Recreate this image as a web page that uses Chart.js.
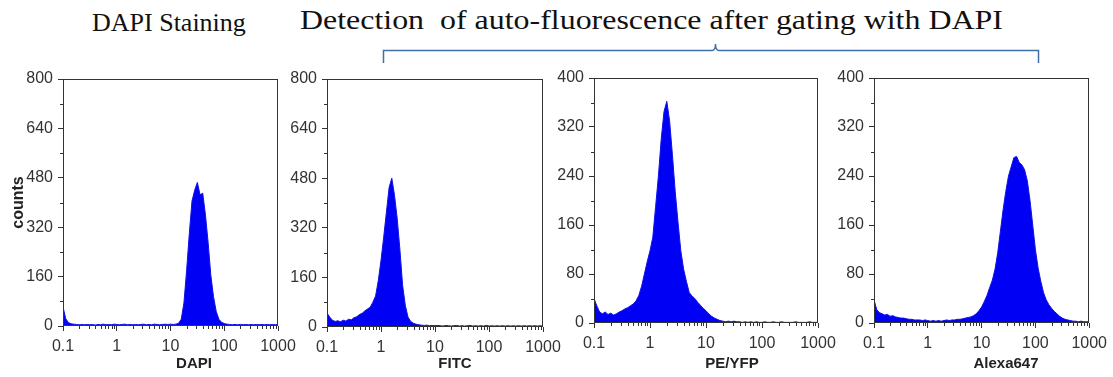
<!DOCTYPE html>
<html>
<head>
<meta charset="utf-8">
<script src="https://cdn.jsdelivr.net/npm/chart.js@4.4.1/dist/chart.umd.min.js"></script>
<style>
html,body{margin:0;padding:0;background:#fff;}
#wrap{position:relative;width:1113px;height:377px;overflow:hidden;background:#fff;}
#wrap canvas{position:absolute;left:0;top:0;}
.t{position:absolute;white-space:nowrap;font-family:"Liberation Serif","Times New Roman",serif;color:#111;}
.ax{position:absolute;white-space:nowrap;font-family:"Liberation Sans",Arial,sans-serif;font-weight:bold;font-size:15px;line-height:15px;color:#222;transform:translateX(-50%);}
svg{position:absolute;left:0;top:0;}
</style>
</head>
<body>
<div id="wrap">
  <div class="t" style="left:92px;top:10px;font-size:26px;line-height:26px;">DAPI Staining</div>
  <div class="t" style="left:300px;top:6px;font-size:28px;line-height:28px;transform:scaleX(1.14);transform-origin:0 0;">Detection&nbsp; of auto-fluorescence after gating with DAPI</div>
  <svg width="1113" height="377"><path d="M383.5,63 L383.5,50.5 L712,50.5 Q715.5,50.5 715.5,44 Q715.5,50.5 719,50.5 L1038.5,50.5 L1038.5,63" fill="none" stroke="#3f6fa6" stroke-width="1.5"/></svg>
  <canvas id="c1" width="1113" height="377"></canvas>
  <canvas id="c2" width="1113" height="377"></canvas>
  <canvas id="c3" width="1113" height="377"></canvas>
  <canvas id="c4" width="1113" height="377"></canvas>
  <div class="ax" style="left:194px;top:355px;">DAPI</div>
  <div class="ax" style="left:455px;top:355px;">FITC</div>
  <div class="ax" style="left:732px;top:355px;">PE/YFP</div>
  <div class="ax" style="left:1006px;top:355px;">Alexa647</div>
</div>
<script>
// ---- channel grid (log-spaced fluorescence channels, 20 per decade) ----
const decadeStarts = [0.1, 1, 10, 100];
const stepFactors = [1, 1.122, 1.259, 1.413, 1.585, 1.778, 1.995, 2.239, 2.512, 2.818,
                     3.162, 3.548, 3.981, 4.467, 5.012, 5.623, 6.310, 7.079, 7.943, 8.913];
const channels = decadeStarts.flatMap(d => stepFactors.map(f => d * f)).concat([1000]);

// ---- tick labels ----
const xTickValues = [0.1, 1, 10, 100, 1000];
const xTickLabels = ['0.1', '1', '10', '100', '1000'];
const xMinorFactors = [2, 3, 4, 5, 6, 7, 8, 9];

// ---- series (counts per channel) ----
const dapiCounts = [62,24,11,7,6,5,4,5,4,5, 4,5,3,5,4,6,4,5,4,6,
                    5,4,5,6,4,5,4,5,4,5, 6,4,5,4,6,5,4,5,6,5,
                    6,5,6,9,22,75,180,300,405,440, 465,425,430,360,270,165,95,48,22,12,
                    8,6,5,4,5,4,5,4,5,4, 5,4,5,4,5,4,5,4,5,4, 5];
const fitcCounts = [45,32,22,18,20,17,22,19,25,23, 30,33,40,44,52,58,64,80,100,150,
                    215,290,370,450,480,425,350,250,135,70, 32,18,12,9,7,6,5,6,4,5,
                    4,5,4,3,5,4,3,4,5,3, 4,3,4,5,3,4,3,4,3,5, 3,4,3,4,3,4,3,4,3,4,
                    3,4,3,4,3,4,3,4,3,4, 3];
const peCounts = [40,28,18,15,18,14,16,13,15,18, 20,23,25,28,31,36,45,60,80,100,
                  118,140,190,240,300,345,362,330,275,215, 165,118,88,68,50,44,40,34,29,24,
                  20,15,11,8,6,4,3,2,3,2, 3,2,2,1,2,1,2,1,2,1, 1,2,1,1,2,1,1,2,1,1,
                  1,1,2,1,1,1,1,2,1,1, 1];
const alexaCounts = [38,22,17,15,13,14,11,12,10,9, 8,8,7,6,6,5,5,5,4,5,
                     4,3,4,3,4,3,4,5,4,5, 5,6,6,7,8,9,10,12,15,20,
                     26,35,45,58,70,88,115,150,185,215, 240,255,270,272,262,258,250,232,200,160,
                     120,90,68,50,38,30,24,19,15,11, 8,6,5,4,3,3,2,3,2,2, 2];

const panels = [
  {id: 'c1', counts: dapiCounts,  yMax: 800, yStep: 160, area: {l: 63,  r: 278,  t: 79, b: 326}, yTitle: 'counts'},
  {id: 'c2', counts: fitcCounts,  yMax: 800, yStep: 160, area: {l: 327, r: 543,  t: 79, b: 327}, yTitle: ''},
  {id: 'c3', counts: peCounts,    yMax: 400, yStep: 80,  area: {l: 594, r: 818,  t: 78, b: 323}, yTitle: ''},
  {id: 'c4', counts: alexaCounts, yMax: 400, yStep: 80,  area: {l: 874, r: 1091, t: 78, b: 323}, yTitle: ''}
];

const AXIS = '#333';
const frameAndMinor = {
  id: 'frameAndMinor',
  afterDraw(chart) {
    const {ctx, chartArea: a, scales: {x, y}} = chart;
    ctx.save();
    ctx.strokeStyle = AXIS;
    ctx.lineWidth = 1;
    ctx.strokeRect(Math.round(a.left) + 0.5, Math.round(a.top) + 0.5,
                   Math.round(a.right - a.left) - 1, Math.round(a.bottom - a.top) - 1);
    ctx.beginPath();
    decadeStarts.forEach(d => xMinorFactors.forEach(f => {
      const px = Math.round(x.getPixelForValue(d * f)) + 0.5;
      ctx.moveTo(px, a.bottom); ctx.lineTo(px, a.bottom + 3);
    }));
    const yt = y.ticks.map(t => t.value);
    for (let i = 0; i < yt.length - 1; i++) {
      const py = Math.round(y.getPixelForValue((yt[i] + yt[i + 1]) / 2)) + 0.5;
      ctx.moveTo(a.left, py); ctx.lineTo(a.left - 3, py);
    }
    ctx.stroke();
    ctx.restore();
  }
};

const tickFont = {family: '"Liberation Sans", Arial, sans-serif', size: 16};

panels.forEach(p => {
  const yW = p.yTitle ? 54 : 40;
  const xH = 30;
  new Chart(document.getElementById(p.id), {
    type: 'line',
    data: {
      datasets: [{
        data: channels.map((c, i) => ({x: c, y: p.counts[i]})),
        borderColor: '#1010e8',
        backgroundColor: '#0000f5',
        borderWidth: 1,
        pointRadius: 0,
        tension: 0,
        fill: 'origin'
      }]
    },
    options: {
      responsive: false,
      animation: false,
      devicePixelRatio: 1,
      events: [],
      layout: {padding: {left: p.area.l - yW, right: 1113 - p.area.r, top: p.area.t, bottom: 377 - p.area.b - xH}},
      plugins: {legend: {display: false}, tooltip: {enabled: false}},
      scales: {
        x: {
          type: 'logarithmic',
          min: 0.1, max: 1000,
          afterBuildTicks: s => { s.ticks = xTickValues.map(v => ({value: v})); },
          afterFit: s => { s.height = xH; },
          ticks: {
            autoSkip: false, maxRotation: 0, padding: 6, color: AXIS, font: tickFont,
            callback: (v, i) => xTickLabels[i]
          },
          grid: {drawOnChartArea: false, drawTicks: true, tickLength: 5, tickColor: AXIS},
          border: {display: false}
        },
        y: {
          type: 'linear',
          min: 0, max: p.yMax,
          afterFit: s => { s.width = yW; },
          ticks: {stepSize: p.yStep, padding: 5, color: AXIS, font: tickFont},
          grid: {drawOnChartArea: false, drawTicks: true, tickLength: 5, tickColor: AXIS},
          border: {display: false},
          title: {
            display: !!p.yTitle, text: p.yTitle, color: '#222', padding: 0,
            font: {family: '"Liberation Sans", Arial, sans-serif', size: 16, weight: 'bold'}
          }
        }
      }
    },
    plugins: [frameAndMinor]
  });
});
</script>
</body>
</html>
